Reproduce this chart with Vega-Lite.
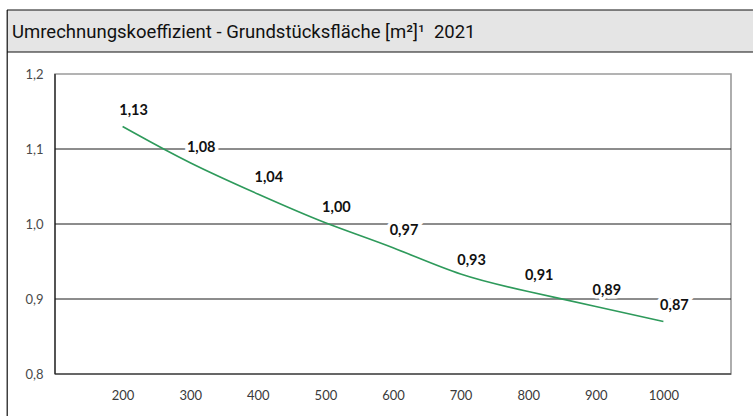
{
  "$schema": "https://vega.github.io/schema/vega-lite/v6.json",
  "width": 676,
  "height": 300,
  "autosize": "none",
  "padding": {"left": 55, "top": 74, "right": 22, "bottom": 42},
  "background": "white",
  "config": {
    "view": {"stroke": null},
    "locale": {"number": {"decimal": ",", "thousands": ".", "grouping": [3], "currency": ["", " €"]}},
    "font": "Lato"
  },
  "data": {"values": [
    {"flaeche": 200, "koeffizient": 1.13},
    {"flaeche": 300, "koeffizient": 1.08},
    {"flaeche": 400, "koeffizient": 1.04},
    {"flaeche": 500, "koeffizient": 1.00},
    {"flaeche": 600, "koeffizient": 0.97},
    {"flaeche": 700, "koeffizient": 0.93},
    {"flaeche": 800, "koeffizient": 0.91},
    {"flaeche": 900, "koeffizient": 0.89},
    {"flaeche": 1000, "koeffizient": 0.87}
  ]},
  "layer": [
    {
      "data": {"values": [{"t": 1}]},
      "mark": {"type": "rect", "fill": "#e5e5e5"},
      "encoding": {
        "x": {"datum": 29, "type": "quantitative", "scale": {"domain": [100, 1100], "nice": false, "zero": false},
          "axis": {"values": [200, 300, 400, 500, 600, 700, 800, 900, 1000], "format": "d", "labelPadding": 15, "labelFlush": false, "domain": false, "ticks": false, "grid": false, "title": null, "labelFontSize": 13, "labelFont": "Lato", "labelColor": "#3a3a3a"}},
        "x2": {"datum": 1132.5},
        "y": {"datum": 1.22933, "type": "quantitative", "scale": {"domain": [0.8, 1.2], "nice": false, "zero": false},
          "axis": {"values": [0.8, 0.9, 1.0, 1.1, 1.2], "format": ".1f", "labelPadding": 12, "domain": false, "ticks": false, "grid": false, "title": null, "labelFontSize": 13, "labelFont": "Lato", "labelColor": "#4a4a4a"}},
        "y2": {"datum": 1.28533}
      }
    },
    {
      "data": {"values": [{"r": 1.28533}, {"r": 1.22933}]},
      "mark": {"type": "rule", "color": "#111", "strokeWidth": 1.2},
      "encoding": {
        "x": {"datum": 29, "type": "quantitative", "scale": {"domain": [100, 1100], "nice": false, "zero": false},
          "axis": {"values": [200, 300, 400, 500, 600, 700, 800, 900, 1000], "format": "d", "labelPadding": 15, "labelFlush": false, "domain": false, "ticks": false, "grid": false, "title": null, "labelFontSize": 13, "labelFont": "Lato", "labelColor": "#3a3a3a"}},
        "x2": {"datum": 1132.5},
        "y": {"field": "r", "type": "quantitative", "scale": {"domain": [0.8, 1.2], "nice": false, "zero": false},
          "axis": {"values": [0.8, 0.9, 1.0, 1.1, 1.2], "format": ".1f", "labelPadding": 12, "domain": false, "ticks": false, "grid": false, "title": null, "labelFontSize": 13, "labelFont": "Lato", "labelColor": "#4a4a4a"}}
      }
    },
    {
      "data": {"values": [{"t": 1}]},
      "mark": {"type": "rule", "color": "#111", "strokeWidth": 1.2},
      "encoding": {
        "x": {"datum": 29.3, "type": "quantitative", "scale": {"domain": [100, 1100], "nice": false, "zero": false},
          "axis": {"values": [200, 300, 400, 500, 600, 700, 800, 900, 1000], "format": "d", "labelPadding": 15, "labelFlush": false, "domain": false, "ticks": false, "grid": false, "title": null, "labelFontSize": 13, "labelFont": "Lato", "labelColor": "#3a3a3a"}},
        "y": {"datum": 0.744, "type": "quantitative", "scale": {"domain": [0.8, 1.2], "nice": false, "zero": false},
          "axis": {"values": [0.8, 0.9, 1.0, 1.1, 1.2], "format": ".1f", "labelPadding": 12, "domain": false, "ticks": false, "grid": false, "title": null, "labelFontSize": 13, "labelFont": "Lato", "labelColor": "#4a4a4a"}},
        "y2": {"datum": 1.28533}
      }
    },
    {
      "data": {"values": [{"title": "Umrechnungskoeffizient - Grundstücksfläche [m²]¹\u00a0\u00a02021"}]},
      "mark": {"type": "text", "align": "left", "baseline": "middle", "dx": 5, "dy": 1, "fontSize": 18.5, "font": "Roboto", "color": "#111"},
      "encoding": {
        "text": {"field": "title"},
        "x": {"datum": 29, "type": "quantitative", "scale": {"domain": [100, 1100], "nice": false, "zero": false},
          "axis": {"values": [200, 300, 400, 500, 600, 700, 800, 900, 1000], "format": "d", "labelPadding": 15, "labelFlush": false, "domain": false, "ticks": false, "grid": false, "title": null, "labelFontSize": 13, "labelFont": "Lato", "labelColor": "#3a3a3a"}},
        "y": {"datum": 1.2573, "type": "quantitative", "scale": {"domain": [0.8, 1.2], "nice": false, "zero": false},
          "axis": {"values": [0.8, 0.9, 1.0, 1.1, 1.2], "format": ".1f", "labelPadding": 12, "domain": false, "ticks": false, "grid": false, "title": null, "labelFontSize": 13, "labelFont": "Lato", "labelColor": "#4a4a4a"}}
      }
    },
    {
      "data": {"values": [{"t": 1}]},
      "mark": {"type": "rect", "fill": null, "stroke": "#9a9a9a", "strokeWidth": 1.6},
      "encoding": {
        "x": {"datum": 100, "type": "quantitative", "scale": {"domain": [100, 1100], "nice": false, "zero": false},
          "axis": {"values": [200, 300, 400, 500, 600, 700, 800, 900, 1000], "format": "d", "labelPadding": 15, "labelFlush": false, "domain": false, "ticks": false, "grid": false, "title": null, "labelFontSize": 13, "labelFont": "Lato", "labelColor": "#3a3a3a"}},
        "x2": {"datum": 1100},
        "y": {"datum": 0.8, "type": "quantitative", "scale": {"domain": [0.8, 1.2], "nice": false, "zero": false},
          "axis": {"values": [0.8, 0.9, 1.0, 1.1, 1.2], "format": ".1f", "labelPadding": 12, "domain": false, "ticks": false, "grid": false, "title": null, "labelFontSize": 13, "labelFont": "Lato", "labelColor": "#4a4a4a"}},
        "y2": {"datum": 1.2}
      }
    },
    {
      "data": {"values": [{"g": 0.8}, {"g": 0.9}, {"g": 1.0}, {"g": 1.1}]},
      "mark": {"type": "rule", "color": "#1a1a1a", "strokeWidth": 1},
      "encoding": {
        "x": {"datum": 100, "type": "quantitative", "scale": {"domain": [100, 1100], "nice": false, "zero": false},
          "axis": {"values": [200, 300, 400, 500, 600, 700, 800, 900, 1000], "format": "d", "labelPadding": 15, "labelFlush": false, "domain": false, "ticks": false, "grid": false, "title": null, "labelFontSize": 13, "labelFont": "Lato", "labelColor": "#3a3a3a"}},
        "x2": {"datum": 1100},
        "y": {"field": "g", "type": "quantitative", "scale": {"domain": [0.8, 1.2], "nice": false, "zero": false},
          "axis": {"values": [0.8, 0.9, 1.0, 1.1, 1.2], "format": ".1f", "labelPadding": 12, "domain": false, "ticks": false, "grid": false, "title": null, "labelFontSize": 13, "labelFont": "Lato", "labelColor": "#4a4a4a"}}
      }
    },
    {
      "data": {"values": [{"t": 1}]},
      "mark": {"type": "rule", "color": "#1a1a1a", "strokeWidth": 1.2},
      "encoding": {
        "x": {"datum": 100, "type": "quantitative", "scale": {"domain": [100, 1100], "nice": false, "zero": false},
          "axis": {"values": [200, 300, 400, 500, 600, 700, 800, 900, 1000], "format": "d", "labelPadding": 15, "labelFlush": false, "domain": false, "ticks": false, "grid": false, "title": null, "labelFontSize": 13, "labelFont": "Lato", "labelColor": "#3a3a3a"}},
        "y": {"datum": 0.8, "type": "quantitative", "scale": {"domain": [0.8, 1.2], "nice": false, "zero": false},
          "axis": {"values": [0.8, 0.9, 1.0, 1.1, 1.2], "format": ".1f", "labelPadding": 12, "domain": false, "ticks": false, "grid": false, "title": null, "labelFontSize": 13, "labelFont": "Lato", "labelColor": "#4a4a4a"}},
        "y2": {"datum": 1.2}
      }
    },
    {
      "mark": {"type": "text", "dx": 11, "dy": -16, "fontSize": 14.5, "fontWeight": "bold", "stroke": "white", "strokeWidth": 7, "fill": "white"},
      "encoding": {
        "text": {"field": "koeffizient", "type": "quantitative", "format": ".2f"},
        "x": {"field": "flaeche", "type": "quantitative", "scale": {"domain": [100, 1100], "nice": false, "zero": false},
          "axis": {"values": [200, 300, 400, 500, 600, 700, 800, 900, 1000], "format": "d", "labelPadding": 15, "labelFlush": false, "domain": false, "ticks": false, "grid": false, "title": null, "labelFontSize": 13, "labelFont": "Lato", "labelColor": "#3a3a3a"}},
        "y": {"field": "koeffizient", "type": "quantitative", "scale": {"domain": [0.8, 1.2], "nice": false, "zero": false},
          "axis": {"values": [0.8, 0.9, 1.0, 1.1, 1.2], "format": ".1f", "labelPadding": 12, "domain": false, "ticks": false, "grid": false, "title": null, "labelFontSize": 13, "labelFont": "Lato", "labelColor": "#4a4a4a"}}
      }
    },
    {
      "mark": {"type": "line", "color": "#2e9a5b", "strokeWidth": 1.6, "interpolate": "basis"},
      "encoding": {
        "x": {"field": "flaeche", "type": "quantitative", "scale": {"domain": [100, 1100], "nice": false, "zero": false},
          "axis": {"values": [200, 300, 400, 500, 600, 700, 800, 900, 1000], "format": "d", "labelPadding": 15, "labelFlush": false, "domain": false, "ticks": false, "grid": false, "title": null, "labelFontSize": 13, "labelFont": "Lato", "labelColor": "#3a3a3a"}},
        "y": {"field": "koeffizient", "type": "quantitative", "scale": {"domain": [0.8, 1.2], "nice": false, "zero": false},
          "axis": {"values": [0.8, 0.9, 1.0, 1.1, 1.2], "format": ".1f", "labelPadding": 12, "domain": false, "ticks": false, "grid": false, "title": null, "labelFontSize": 13, "labelFont": "Lato", "labelColor": "#4a4a4a"}}
      }
    },
    {
      "mark": {"type": "text", "dx": 11, "dy": -16, "fontSize": 14.5, "fontWeight": "bold", "color": "#111"},
      "encoding": {
        "text": {"field": "koeffizient", "type": "quantitative", "format": ".2f"},
        "x": {"field": "flaeche", "type": "quantitative", "scale": {"domain": [100, 1100], "nice": false, "zero": false},
          "axis": {"values": [200, 300, 400, 500, 600, 700, 800, 900, 1000], "format": "d", "labelPadding": 15, "labelFlush": false, "domain": false, "ticks": false, "grid": false, "title": null, "labelFontSize": 13, "labelFont": "Lato", "labelColor": "#3a3a3a"}},
        "y": {"field": "koeffizient", "type": "quantitative", "scale": {"domain": [0.8, 1.2], "nice": false, "zero": false},
          "axis": {"values": [0.8, 0.9, 1.0, 1.1, 1.2], "format": ".1f", "labelPadding": 12, "domain": false, "ticks": false, "grid": false, "title": null, "labelFontSize": 13, "labelFont": "Lato", "labelColor": "#4a4a4a"}}
      }
    }
  ]
}
